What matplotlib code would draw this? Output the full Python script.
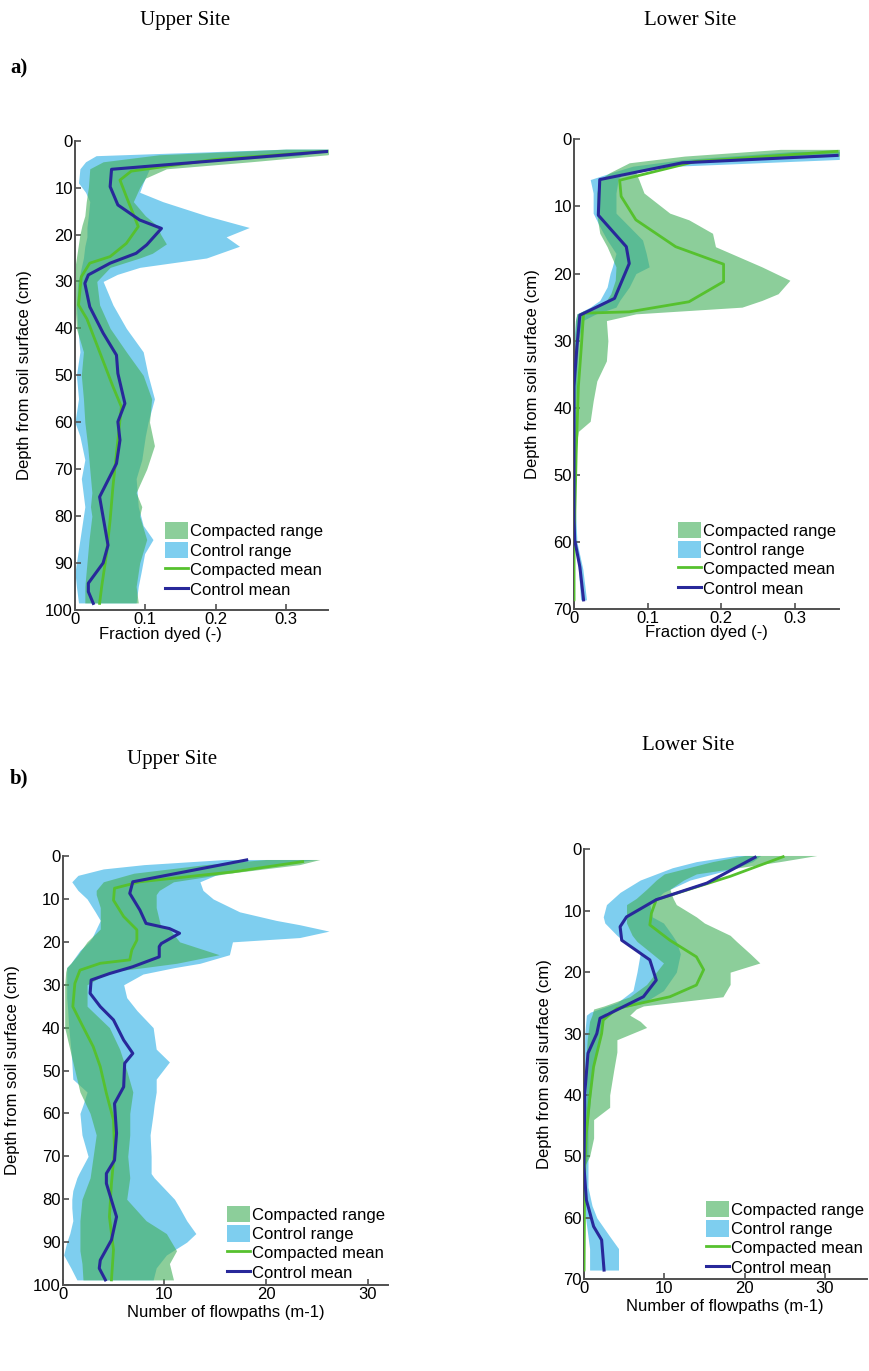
import matplotlib
matplotlib.use("Agg")
import matplotlib.pyplot as plt
import numpy as np

plt.rcParams['font.family'] = ['Liberation Sans', 'DejaVu Sans']

# ---- a) Upper site, fraction dyed ----
au_ctrl_mean_d = [2.3, 6.1, 9.8, 13.7, 16.9, 18.7, 22.2, 24.0, 26.1, 28.6, 30.4, 35.4, 41.0, 45.7, 49.6,
                  56.0, 59.9, 63.8, 68.8, 75.9, 86.2, 90.0, 94.3, 96.1, 98.6]
au_ctrl_mean = [0.359, 0.052, 0.050, 0.061, 0.092, 0.123, 0.102, 0.087, 0.050, 0.019, 0.014, 0.021, 0.040,
                0.059, 0.061, 0.071, 0.061, 0.064, 0.059, 0.035, 0.047, 0.040, 0.019, 0.019, 0.026]
au_comp_mean_d = [2.3, 4.0, 6.5, 8.4, 11.9, 18.3, 21.9, 24.7, 26.1, 29.0, 35.0, 38.0, 45.0, 52.4, 56.7,
                  66.6, 73.7, 80.8, 87.9, 95.0, 98.6]
au_comp_mean = [0.355, 0.20, 0.08, 0.064, 0.073, 0.090, 0.073, 0.050, 0.021, 0.009, 0.005, 0.017, 0.035,
                0.054, 0.066, 0.059, 0.054, 0.050, 0.045, 0.038, 0.035]
au_comp_rng_d = [1.8, 3.0, 4.5, 6, 8, 10, 13, 16, 18, 20, 22, 24, 25, 27, 30, 35, 40, 45, 50, 55, 60,
                 65, 70, 75, 78, 80, 85, 90, 95, 98.5]
au_comp_lo = [0.30, 0.12, 0.04, 0.021, 0.020, 0.019, 0.016, 0.014, 0.010, 0.007, 0.005, 0.003, 0.002, 0.0,
              0.0, 0.0, 0.002, 0.012, 0.009, 0.012, 0.014, 0.018, 0.021, 0.024, 0.022, 0.024, 0.020,
              0.017, 0.014, 0.014]
au_comp_hi = [0.365, 0.36, 0.25, 0.13, 0.10, 0.092, 0.083, 0.10, 0.116, 0.122, 0.13, 0.11, 0.092, 0.05,
              0.031, 0.035, 0.05, 0.073, 0.097, 0.109, 0.106, 0.113, 0.102, 0.087, 0.095, 0.092, 0.102,
              0.092, 0.087, 0.090]
au_ctrl_rng_d = [1.8, 3.2, 4.5, 6, 9, 11, 13, 16, 18.5, 20.5, 22.5, 25, 27, 28.5, 30, 35, 40, 45, 50, 55,
                 60, 63, 68, 72, 78, 82, 85, 88, 92, 95, 98.5]
au_ctrl_lo = [0.30, 0.03, 0.015, 0.007, 0.005, 0.015, 0.021, 0.019, 0.017, 0.017, 0.014, 0.012, 0.009,
              0.007, 0.004, 0.002, 0.004, 0.007, 0.002, 0.005, 0.0, 0.007, 0.014, 0.009, 0.014, 0.010,
              0.007, 0.004, 0.0, 0.002, 0.005]
au_ctrl_hi = [0.36, 0.32, 0.18, 0.106, 0.097, 0.092, 0.125, 0.187, 0.248, 0.215, 0.234, 0.187, 0.092,
              0.06, 0.040, 0.054, 0.073, 0.097, 0.104, 0.113, 0.104, 0.100, 0.095, 0.087, 0.090, 0.097,
              0.111, 0.099, 0.094, 0.090, 0.087]

# ---- a) Lower site, fraction dyed ----
al_ctrl_mean_d = [2.4, 3.5, 6.0, 11.3, 16.0, 18.5, 23.7, 26.2, 30.9, 36.8, 56.7, 59.7, 63.7, 68.6]
al_ctrl_mean = [0.357, 0.147, 0.035, 0.033, 0.071, 0.075, 0.055, 0.008, 0.004, 0.0, 0.0, 0.001, 0.008, 0.013]
al_comp_mean_d = [1.8, 3.3, 6.1, 8.5, 12.0, 16.0, 18.6, 21.2, 24.2, 25.7, 25.9, 30.9, 36.8, 46.8, 56.7,
                  61.7, 68.6]
al_comp_mean = [0.357, 0.165, 0.062, 0.064, 0.084, 0.138, 0.203, 0.203, 0.156, 0.075, 0.013, 0.010, 0.006,
                0.003, 0.001, 0.0, 0.0]
al_comp_rng_d = [1.5, 2.5, 3.5, 5, 6, 8, 11, 12, 14, 16, 19, 21, 23, 24, 25, 26, 27, 30, 33, 36, 39, 42,
                 43.5, 47, 68.6]
al_comp_lo = [0.28, 0.15, 0.075, 0.048, 0.035, 0.031, 0.031, 0.032, 0.035, 0.045, 0.057, 0.056, 0.050,
              0.044, 0.025, 0.004, 0.002, 0.001, 0.0, 0.0, 0.0, 0.0, 0.0, 0.0, 0.0]
al_comp_hi = [0.365, 0.36, 0.15, 0.084, 0.088, 0.095, 0.13, 0.156, 0.188, 0.192, 0.255, 0.293, 0.277,
              0.255, 0.228, 0.084, 0.044, 0.046, 0.044, 0.031, 0.026, 0.022, 0.006, 0.001, 0.001]
al_ctrl_rng_d = [1.8, 3, 4, 5, 6, 8, 11, 13, 15, 17, 19, 20, 22, 24, 25, 26, 27, 30, 40, 55, 60, 64, 68.6]
al_ctrl_lo = [0.30, 0.15, 0.08, 0.05, 0.022, 0.026, 0.026, 0.035, 0.045, 0.057, 0.052, 0.049, 0.045,
              0.035, 0.022, 0.004, 0.002, 0.0, 0.0, 0.0, 0.001, 0.006, 0.009]
al_ctrl_hi = [0.36, 0.36, 0.14, 0.066, 0.060, 0.057, 0.057, 0.075, 0.093, 0.098, 0.102, 0.084, 0.075,
              0.062, 0.057, 0.030, 0.012, 0.006, 0.002, 0.002, 0.004, 0.012, 0.017]

# ---- b) Upper site, number of flowpaths ----
bu_ctrl_mean_d = [0.9, 6.0, 8.7, 12.6, 15.7, 16.9, 18.0, 20.4, 21.1, 23.5, 25.8, 27.4, 28.9, 32.0, 35.1,
                  38.2, 42.9, 46.0, 48.3, 53.8, 57.7, 64.6, 70.9, 74.0, 76.3, 84.1, 89.5, 94.2, 96.1, 98.8]
bu_ctrl_mean = [18.1, 6.9, 6.6, 7.6, 8.2, 10.5, 11.5, 9.7, 9.5, 9.5, 6.9, 4.6, 2.8, 2.7, 3.7, 5.0, 6.0,
                6.9, 6.1, 6.0, 5.1, 5.3, 5.1, 4.3, 4.3, 5.3, 4.8, 3.7, 3.6, 4.2]
bu_comp_mean_d = [1.3, 3.7, 6.0, 7.5, 10.3, 14.1, 17.2, 19.6, 21.9, 24.2, 25.0, 26.6, 29.7, 35.1, 39.8,
                  44.4, 49.1, 55.3, 61.5, 68.5, 76.3, 84.1, 91.8, 98.8]
bu_comp_mean = [23.6, 16.7, 7.6, 5.1, 5.0, 6.0, 7.3, 7.3, 6.8, 6.6, 3.7, 1.7, 1.2, 1.0, 2.0, 3.0, 3.7,
                4.3, 5.0, 5.1, 4.8, 4.6, 5.0, 4.8]
bu_comp_rng_d = [0.8, 2, 4, 6, 8, 9, 12, 16, 17, 20, 23, 25, 26, 27, 30, 35, 40, 45, 50, 55, 60, 65, 70,
                 75, 80, 85, 88, 92, 95, 98.8]
bu_comp_lo = [20, 14, 7, 4.0, 3.3, 3.3, 3.7, 3.7, 3.7, 2.4, 1.5, 0.8, 0.4, 0.3, 0.2, 0.2, 0.2, 0.7, 1.2,
              1.7, 2.7, 3.3, 3.0, 2.7, 1.9, 1.7, 1.7, 1.7, 1.9, 2.0]
bu_comp_hi = [25.3, 23.3, 16.4, 10.9, 9.5, 9.2, 9.2, 9.6, 10.5, 11.5, 15.4, 11.2, 8, 4.6, 2.4, 2.4, 4.6,
              5.6, 6.3, 6.9, 6.6, 6.6, 6.4, 6.6, 6.3, 8.2, 10.2, 11.2, 10.5, 10.9]
bu_ctrl_rng_d = [0.8, 2, 3, 4.5, 6, 8, 10, 13, 15, 16, 17.5, 19, 20, 22, 23, 25, 26, 27.5, 30, 33, 36, 40,
                 45, 48, 52, 55, 58, 60, 65, 70, 74, 75, 78, 80, 82, 85, 88, 90, 93, 96, 98.8]
bu_ctrl_lo = [16, 8, 4, 1.5, 0.9, 1.5, 2.4, 3.2, 3.7, 3.5, 3.2, 2.9, 2.6, 1.7, 1.4, 0.8, 0.4, 0.4, 0.4,
              0.4, 0.5, 0.6, 0.8, 0.9, 1.0, 2.4, 2.0, 1.7, 1.9, 2.5, 1.6, 1.4, 1.0, 0.9, 0.9, 1.0, 0.7,
              0.4, 0.1, 0.8, 1.4]
bu_ctrl_hi = [24.9, 21, 17.4, 15, 13.5, 13.8, 14.8, 17.4, 21, 23.3, 26.2, 23.3, 16.7, 16.5, 16.4, 13.5,
              11, 7.9, 6.0, 6.3, 7.3, 8.9, 9.2, 10.5, 9.2, 9.2, 9.0, 8.9, 8.6, 8.7, 8.7, 9.0, 10.2, 11.0,
              11.5, 12.2, 13.1, 12.2, 10.2, 9.2, 8.9]

# ---- b) Lower site, number of flowpaths ----
bl_ctrl_mean_d = [1.3, 5.5, 8.2, 11.0, 12.6, 14.8, 18.0, 21.3, 24.0, 27.5, 30.0, 33.2, 39.7, 51.7, 57.1,
                  61.4, 63.6, 68.5]
bl_ctrl_mean = [21.3, 15.3, 9.0, 5.3, 4.5, 4.7, 8.2, 9.0, 7.4, 2.0, 1.6, 0.5, 0.1, 0.0, 0.3, 1.2, 2.2, 2.5]
bl_comp_mean_d = [1.2, 4.4, 8.2, 10.4, 12.3, 14.8, 17.5, 19.6, 22.1, 24.0, 25.9, 27.8, 30.0, 35.4, 40.8,
                  46.2, 51.7, 68.5]
bl_comp_mean = [24.8, 18.2, 9.0, 8.4, 8.2, 10.7, 14.0, 14.9, 14.0, 10.7, 4.1, 2.4, 2.2, 1.2, 0.7, 0.3,
                0.1, 0.0]
bl_comp_rng_d = [1, 2, 4, 5, 6.5, 8, 9, 11, 12, 14, 15, 17, 18.5, 20, 22, 24, 25.5, 26, 27, 28, 29, 31,
                 33, 36, 40, 42, 44, 47, 50, 51.5, 68.5]
bl_comp_lo = [20, 16, 10, 9, 7.8, 6.5, 5.3, 5.3, 5.3, 6, 6.6, 8.5, 9.9, 9, 7.8, 5.7, 2.5, 1.2, 1.0, 0.7,
              0.6, 0.4, 0.3, 0.3, 0.3, 0.2, 0.1, 0.1, 0, 0, 0]
bl_comp_hi = [29, 24.4, 14, 12.4, 10.7, 11.1, 11.5, 14.0, 15, 18.2, 19, 20.7, 21.9, 18.2, 18.2, 17.3,
              7.4, 6.5, 5.7, 7, 7.8, 4.1, 4.1, 3.7, 3.2, 3.2, 1.2, 1.2, 0.7, 0.1, 0.1]
bl_ctrl_rng_d = [1, 2, 3, 5, 7, 9, 11, 12, 14, 15, 17, 20, 23, 25, 26.5, 27, 30, 35, 45, 55, 58, 60, 63,
                 65, 68.5]
bl_ctrl_lo = [19, 14, 11, 7, 4.5, 2.8, 2.4, 2.6, 4.1, 5, 7, 6.6, 6.1, 4.1, 0.8, 0.3, 0.1, 0, 0, 0, 0.1,
              0.2, 0.5, 0.7, 0.7]
bl_ctrl_hi = [22, 21, 19, 13.2, 9.9, 8.2, 8.5, 9.9, 11, 11.5, 12.0, 11.5, 9.9, 7.4, 2.8, 2.5, 2.0, 1.2,
              0.5, 0.5, 1.0, 1.6, 3.2, 4.3, 4.3]

COMP_FILL = '#45b05c'
CTRL_FILL = '#2fb0e6'
COMP_LINE = '#56c12e'
CTRL_LINE = '#28289a'
SPINE = '#505050'

fig = plt.figure(figsize=(8.69, 13.71), dpi=100)

panels = [
    dict(rect=[0.0863, 0.5551, 0.2912, 0.3423],
         data=(au_comp_rng_d, au_comp_lo, au_comp_hi, au_ctrl_rng_d, au_ctrl_lo, au_ctrl_hi,
               au_comp_mean_d, au_comp_mean, au_ctrl_mean_d, au_ctrl_mean),
         xlim=(0, 0.36), xticks=[0, 0.1, 0.2, 0.3], xtl=['0', '0.1', '0.2', '0.3'],
         ylim=100, yticks=range(0, 101, 10), xlabel='Fraction dyed (-)',
         xl=(0.336, -0.036), yl=-0.17, leg=(0.190, 0.6190)),
    dict(rect=[0.6605, 0.5556, 0.3053, 0.3428],
         data=(al_comp_rng_d, al_comp_lo, al_comp_hi, al_ctrl_rng_d, al_ctrl_lo, al_ctrl_hi,
               al_comp_mean_d, al_comp_mean, al_ctrl_mean_d, al_ctrl_mean),
         xlim=(0, 0.36), xticks=[0, 0.1, 0.2, 0.3], xtl=['0', '0.1', '0.2', '0.3'],
         ylim=70, yticks=range(0, 71, 10), xlabel='Fraction dyed (-)',
         xl=(0.5, -0.034), yl=-0.128, leg=(0.780, 0.6195)),
    dict(rect=[0.0721, 0.0627, 0.3744, 0.3129],
         data=(bu_comp_rng_d, bu_comp_lo, bu_comp_hi, bu_ctrl_rng_d, bu_ctrl_lo, bu_ctrl_hi,
               bu_comp_mean_d, bu_comp_mean, bu_ctrl_mean_d, bu_ctrl_mean),
         xlim=(0, 32), xticks=[0, 10, 20, 30], xtl=['0', '10', '20', '30'],
         ylim=100, yticks=range(0, 101, 10), xlabel='Number of flowpaths (m-1)',
         xl=(0.5, -0.047), yl=-0.131, leg=(0.261, 0.1206)),
    dict(rect=[0.6720, 0.0669, 0.3253, 0.3136],
         data=(bl_comp_rng_d, bl_comp_lo, bl_comp_hi, bl_ctrl_rng_d, bl_ctrl_lo, bl_ctrl_hi,
               bl_comp_mean_d, bl_comp_mean, bl_ctrl_mean_d, bl_ctrl_mean),
         xlim=(0, 35.2), xticks=[0, 10, 20, 30], xtl=['0', '10', '20', '30'],
         ylim=70, yticks=range(0, 71, 10), xlabel='Number of flowpaths (m-1)',
         xl=(0.5, -0.046), yl=-0.114, leg=(0.8124, 0.1243)),
]

for p in panels:
    ax = fig.add_axes(p['rect'])
    (cr_d, cr_lo, cr_hi, kr_d, kr_lo, kr_hi, cm_d, cm, km_d, km) = p['data']
    ax.fill_betweenx(kr_d, kr_lo, kr_hi, color=CTRL_FILL, alpha=0.62, lw=0, label='Control range', zorder=1)
    ax.fill_betweenx(cr_d, cr_lo, cr_hi, color=COMP_FILL, alpha=0.62, lw=0, label='Compacted range', zorder=2)
    ax.plot(cm, cm_d, color=COMP_LINE, lw=2.0, label='Compacted mean', zorder=3)
    ax.plot(km, km_d, color=CTRL_LINE, lw=2.2, label='Control mean', zorder=4)

    ax.set_xlim(*p['xlim'])
    ax.set_ylim(p['ylim'], 0)
    ax.set_xticks(p['xticks'])
    ax.set_xticklabels(p['xtl'])
    ax.set_yticks(list(p['yticks']))
    for s in ['top', 'right']:
        ax.spines[s].set_visible(False)
    for s in ['left', 'bottom']:
        ax.spines[s].set_color(SPINE)
        ax.spines[s].set_linewidth(1.4)
    ax.tick_params(direction='in', length=4, width=1.2, color=SPINE, labelsize=12, pad=1.5)
    ax.set_xlabel(p['xlabel'], fontsize=12)
    ax.set_ylabel('Depth from soil surface (cm)', fontsize=12)
    ax.xaxis.set_label_coords(*p['xl'])
    ax.yaxis.set_label_coords(p['yl'], 0.5)

    h, l = ax.get_legend_handles_labels()
    order = [l.index(n) for n in ['Compacted range', 'Control range', 'Compacted mean', 'Control mean']]
    ax.legend([h[i] for i in order], [l[i] for i in order], loc='upper left',
              bbox_to_anchor=p['leg'], bbox_transform=fig.transFigure, frameon=False,
              fontsize=12, borderpad=0, borderaxespad=0, labelspacing=0.15,
              handlelength=1.4, handleheight=1.15, handletextpad=0.1)

serif = ['Liberation Serif', 'DejaVu Serif']
fig.text(0.213, 0.9854, 'Upper Site', ha='center', va='center', fontsize=15, family=serif)
fig.text(0.794, 0.9854, 'Lower Site', ha='center', va='center', fontsize=15, family=serif)
fig.text(0.0115, 0.950, 'a)', ha='left', va='center', fontsize=15, fontweight='bold', family=serif)
fig.text(0.0115, 0.4325, 'b)', ha='left', va='center', fontsize=15, fontweight='bold', family=serif)
fig.text(0.198, 0.4457, 'Upper Site', ha='center', va='center', fontsize=15, family=serif)
fig.text(0.792, 0.4566, 'Lower Site', ha='center', va='center', fontsize=15, family=serif)

fig.savefig('out.png', dpi=100)
